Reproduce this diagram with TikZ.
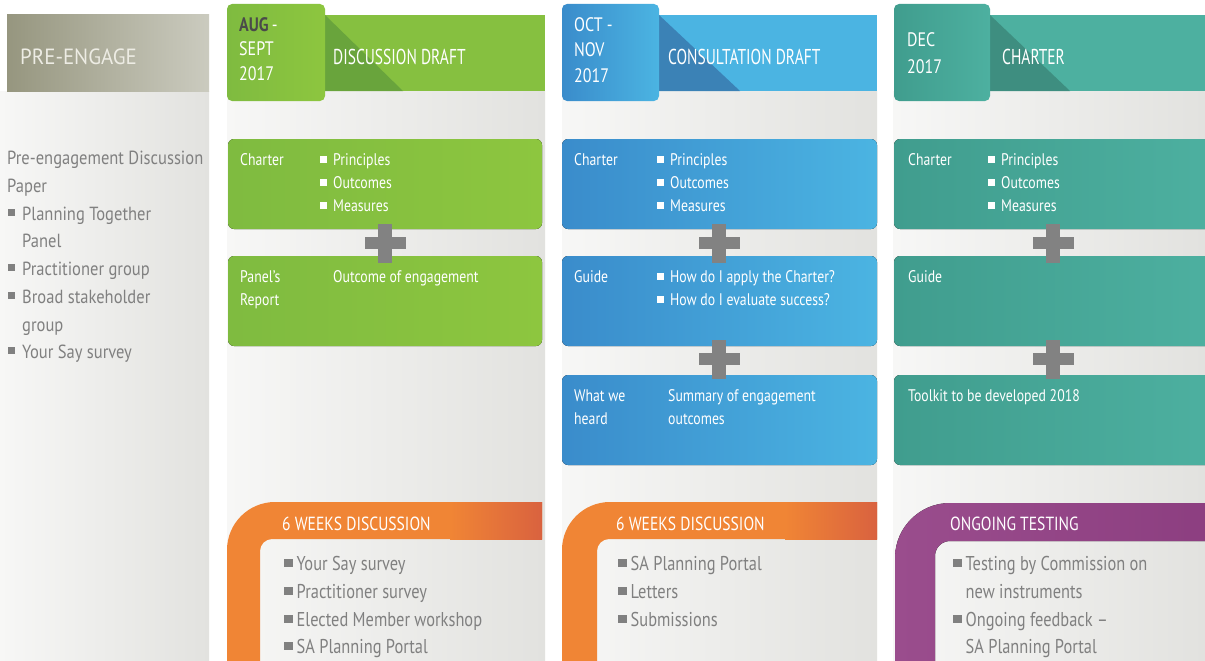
\documentclass[tikz,border=0pt]{standalone}
\usepackage{fontspec}
\setmainfont{PT Sans}[FakeStretch=0.82]
\newfontfamily\condA{PT Sans}[FakeStretch=0.72]
\newfontfamily\wideA{PT Sans}[FakeStretch=0.95]
\newfontfamily\leftA{PT Sans}[FakeStretch=0.87]
\definecolor{gL}{HTML}{7FBB40}
\definecolor{gA}{HTML}{8DC63F}
\definecolor{gB}{HTML}{86C040}
\definecolor{gS}{HTML}{69A43C}
\definecolor{bL}{HTML}{3A8CCB}
\definecolor{bA}{HTML}{4BB4E2}
\definecolor{bS}{HTML}{3B82B6}
\definecolor{tL}{HTML}{409D8E}
\definecolor{tA}{HTML}{4DB0A0}
\definecolor{tS}{HTML}{3E8E80}
\definecolor{orA}{HTML}{F08535}
\definecolor{orB}{HTML}{D9623F}
\definecolor{puA}{HTML}{9A4D8D}
\definecolor{puB}{HTML}{8C3E80}
\definecolor{txtg}{HTML}{808080}
\definecolor{plusg}{HTML}{828282}
\definecolor{darkg}{HTML}{4A4A4A}
\definecolor{colL}{HTML}{F7F7F6}
\definecolor{colR}{HTML}{E2E2DF}
\definecolor{peL}{HTML}{96967F}
\definecolor{peM}{HTML}{8C8C76}
\definecolor{peR}{HTML}{CBCBBF}
\definecolor{peT}{HTML}{EDECE4}
\newcommand\fLeft{\leftA\fontsize{19}{22}\selectfont}
\newcommand\fBox{\fontsize{16.8}{22}\selectfont}
\newcommand\fDate{\fontsize{19.5}{24}\selectfont}
\newcommand\fBand{\condA\fontsize{21.5}{26}\selectfont}
\newcommand\fPre{\wideA\fontsize{22}{26}\selectfont}
\newcommand\fBot{\fontsize{20}{24}\selectfont}
\newcommand\fBotT{\fontsize{19}{24}\selectfont}
\newcommand\wsq{\textcolor{white}{\rule[2.5pt]{7pt}{6.5pt}}\hspace{6pt}}
\newcommand\lsq{\textcolor{txtg}{\rule[4.5pt]{7pt}{7pt}}\hspace{7pt}}
\newcommand\bsq{\textcolor{txtg}{\rule[3pt]{9pt}{8pt}}\hspace{3.5pt}}
\tikzset{
  lbl/.style={inner sep=0pt, anchor=base west},
  lefttxt/.style={lbl, font=\fLeft, text=txtg},
  boxtxt/.style={lbl, font=\fBox, text=white},
  datetxt/.style={lbl, font=\fDate, text=white},
  bandtxt/.style={lbl, font=\fBand, text=white},
  bottitle/.style={lbl, font=\fBotT, text=white},
  botitem/.style={lbl, font=\fBot, text=txtg},
  plus/.style={fill=plusg},
  cbox/.style={rounded corners=6pt},
  datebox/.style={draw=none, rounded corners=5pt, minimum height=97pt, inner sep=0pt},
}
\newcommand\plussign[2]{%
  \fill[plus] (#1-20.5,#2-6) rectangle (#1+20.5,#2+6);
  \fill[plus] (#1-7,#2-19.5) rectangle (#1+7,#2+19.5);}
\begin{document}
\begin{tikzpicture}[x=1pt,y=-1pt]
\useasboundingbox (0,0) rectangle (1205,661);
\fill[white] (0,0) rectangle (1205,661);
% column backgrounds
\fill[left color=colL, right color=colR] (0,91) rectangle (209,661);
\fill[left color=colL, right color=colR] (227,91) rectangle (545,661);
\fill[left color=colL, right color=colR] (562,91) rectangle (877,661);
\fill[left color=colL, right color=colR] (893,91) rectangle (1205,661);
% pre-engage header
\fill[left color=peL, middle color=peM, right color=peR] (7,15) rectangle (209,91);
\node[lbl, font=\fPre, text=peT] (pre) at (20,65) {PRE-ENGAGE};
% bands
\fill[gB] (300,15) rectangle (545,91);
\fill[gS] (325,15) -- (403,91) -- (325,91) -- cycle;
\fill[bA] (640,15) rectangle (877,91);
\fill[bS] (659,15) -- (740,91) -- (659,91) -- cycle;
\fill[tA] (970,15) rectangle (1205,91);
\fill[tS] (990,15) -- (1070,91) -- (990,91) -- cycle;
% date boxes
\node[datebox, left color=gL, right color=gA, minimum width=98pt] (d1) at (276,52.5) {};
\node[datebox, left color=bL, right color=bA, minimum width=97pt] (d2) at (610.5,52.5) {};
\node[datebox, left color=tL, right color=tA, minimum width=96pt] (d3) at (942,52.5) {};
\node[datetxt] (d1a) at (239,32) {{\bfseries\color{darkg}AUG}\,-};
\node[datetxt] (d1b) at (239,56) {SEPT};
\node[datetxt] (d1c) at (239,81) {2017};
\node[datetxt] (d2a) at (574,32) {OCT -};
\node[datetxt] (d2b) at (574,57) {NOV};
\node[datetxt] (d2c) at (574,82) {2017};
\node[datetxt] (d3a) at (907,47) {DEC};
\node[datetxt] (d3b) at (907,74) {2017};
\node[bandtxt] (t1) at (333,65) {DISCUSSION DRAFT};
\node[bandtxt] (t2) at (668,65) {CONSULTATION DRAFT};
\node[bandtxt] (t3) at (1002,65) {CHARTER};
% left column text
\node[lefttxt] (l1) at (7,164) {Pre-engagement Discussion};
\node[lefttxt] (l2) at (7,192) {Paper};
\node[lefttxt] (l3) at (8,220) {\lsq Planning Together};
\node[lefttxt] (l4) at (22,247) {Panel};
\node[lefttxt] (l5) at (8,275) {\lsq Practitioner group};
\node[lefttxt] (l6) at (8,303) {\lsq Broad stakeholder};
\node[lefttxt] (l7) at (22,331) {group};
\node[lefttxt] (l8) at (8,358) {\lsq Your Say survey};
% content boxes
\fill[cbox, left color=gL, right color=gA] (228,139) rectangle (542,229);
\fill[cbox, left color=gL, right color=gA] (228,256) rectangle (542,346);
\fill[cbox, left color=bL, right color=bA] (562,139) rectangle (877,229);
\fill[cbox, left color=bL, right color=bA] (562,256) rectangle (877,346);
\fill[cbox, left color=bL, right color=bA] (562,375) rectangle (877,465);
\fill[cbox, left color=tL, right color=tA] (894,139) rectangle (1215,229);
\fill[cbox, left color=tL, right color=tA] (894,256) rectangle (1215,346);
\fill[cbox, left color=tL, right color=tA] (894,375) rectangle (1215,465);
% plus signs
\plussign{385}{243}
\plussign{719}{243}
\plussign{719}{359}
\plussign{1053}{243}
\plussign{1053}{359}
% col 2 text
\node[boxtxt] (c2a) at (240,165) {Charter};
\node[boxtxt] (c2b) at (320,165) {\wsq Principles};
\node[boxtxt] (c2c) at (320,188) {\wsq Outcomes};
\node[boxtxt] (c2d) at (320,211) {\wsq Measures};
\node[boxtxt] (c2e) at (240,282) {Panel’s};
\node[boxtxt] (c2f) at (240,305) {Report};
\node[boxtxt] (c2g) at (333,282) {Outcome of engagement};
% col 3 text
\node[boxtxt] (c3a) at (574,165) {Charter};
\node[boxtxt] (c3b) at (657,165) {\wsq Principles};
\node[boxtxt] (c3c) at (657,188) {\wsq Outcomes};
\node[boxtxt] (c3d) at (657,211) {\wsq Measures};
\node[boxtxt] (c3e) at (574,282) {Guide};
\node[boxtxt] (c3f) at (657,282) {\wsq How do I apply the Charter?};
\node[boxtxt] (c3g) at (657,305) {\wsq How do I evaluate success?};
\node[boxtxt] (c3h) at (574,401) {What we};
\node[boxtxt] (c3i) at (574,424) {heard};
\node[boxtxt] (c3j) at (668,401) {Summary of engagement};
\node[boxtxt] (c3k) at (668,424) {outcomes};
% col 4 text
\node[boxtxt] (c4a) at (908,165) {Charter};
\node[boxtxt] (c4b) at (988,165) {\wsq Principles};
\node[boxtxt] (c4c) at (988,188) {\wsq Outcomes};
\node[boxtxt] (c4d) at (988,211) {\wsq Measures};
\node[boxtxt] (c4e) at (908,282) {Guide};
\node[boxtxt] (c4f) at (908,401) {Toolkit to be developed 2018};
% bottom shapes
\fill[orA] (227,661) -- (227,550) arc[start angle=180,end angle=270,radius=48] -- (542,502) -- (542,539) -- (272,539) arc[start angle=270,end angle=180,radius=12] -- (260,661) -- cycle;
\fill[left color=orA, right color=orB] (450,502) rectangle (542,539);
\fill[orA] (562,661) -- (562,550) arc[start angle=180,end angle=270,radius=48] -- (877,502) -- (877,539) -- (609,539) arc[start angle=270,end angle=180,radius=12] -- (597,661) -- cycle;
\fill[left color=orA, right color=orB] (785,502) rectangle (877,539);
\fill[left color=puA, right color=puB] (895,661) -- (895,558) arc[start angle=180,end angle=270,radius=55] -- (1215,503) -- (1215,541) -- (950,541) arc[start angle=270,end angle=180,radius=15] -- (935,661) -- cycle;
\node[bottitle] (o1) at (282,530) {6 WEEKS DISCUSSION};
\node[botitem] (o1a) at (284,570) {\bsq Your Say survey};
\node[botitem] (o1b) at (284,598) {\bsq Practitioner survey};
\node[botitem] (o1c) at (284,626) {\bsq Elected Member workshop};
\node[botitem] (o1d) at (284,653) {\bsq SA Planning Portal};
\node[bottitle] (o2) at (616,530) {6 WEEKS DISCUSSION};
\node[botitem] (o2a) at (618,570) {\bsq SA Planning Portal};
\node[botitem] (o2b) at (618,598) {\bsq Letters};
\node[botitem] (o2c) at (618,626) {\bsq Submissions};
\node[bottitle] (o3) at (950,530) {ONGOING TESTING};
\node[botitem] (o3a) at (953,570) {\bsq Testing by Commission on};
\node[botitem] (o3b) at (965.5,598) {new instruments};
\node[botitem] (o3c) at (953,626) {\bsq Ongoing feedback –};
\node[botitem] (o3d) at (965.5,653) {SA Planning Portal};
\end{tikzpicture}
\end{document}
